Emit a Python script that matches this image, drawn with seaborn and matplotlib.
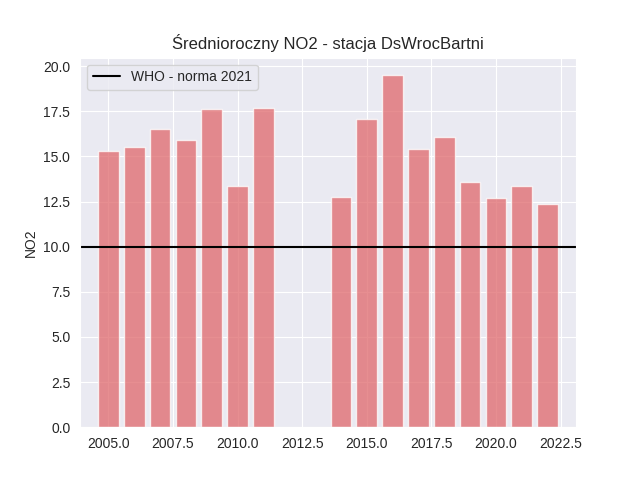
import matplotlib
matplotlib.use("Agg")
import matplotlib.pyplot as plt
import seaborn as sns
import pandas as pd

years = [2005, 2006, 2007, 2008, 2009, 2010, 2011, 2014, 2015, 2016, 2017, 2018, 2019, 2020, 2021, 2022]
no2 = [15.3, 15.5, 16.5, 15.9, 17.6, 13.35, 17.7, 12.75, 17.1, 19.5, 15.4, 16.1, 13.6, 12.7, 13.35, 12.35]
who_norm = 10

sns.set_style("darkgrid")
plt.rcParams['font.family'] = ['Liberation Sans', 'DejaVu Sans']

fig, ax = plt.subplots(figsize=(6.4, 4.8), dpi=100)
df = pd.DataFrame({"year": years, "NO2": no2})
sns.barplot(data=df, x="year", y="NO2", native_scale=True, color="#e0686c", alpha=0.75,
            saturation=1, ax=ax)
ax.axhline(who_norm, color="black", label="WHO - norma 2021")
ax.set_xlim(2003.9, 2023.1)
ax.set_xlabel("")
ax.set_ylabel("NO2")
ax.set_title("Średnioroczny NO2 - stacja DsWrocBartni")
ax.legend(loc="upper left")
fig.savefig("out.png")
